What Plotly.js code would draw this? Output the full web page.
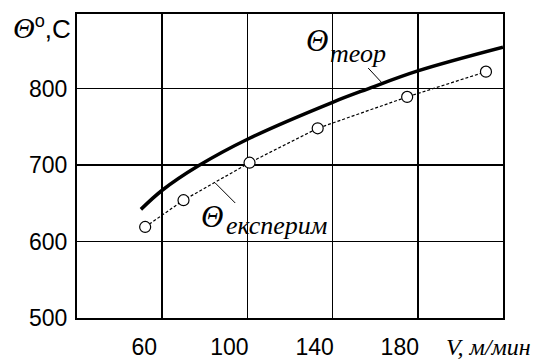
<!DOCTYPE html>
<html>
<head>
<meta charset="utf-8">
<script src="https://cdn.plot.ly/plotly-3.0.1.min.js"></script>
<style>html,body{margin:0;padding:0;background:#fff;}#chart{width:533px;height:362px;}</style>
</head>
<body>
<div id="chart"></div>
<script>
// Data
const theorV = [50, 60, 77, 101, 140, 156, 180, 220];
const theorT = [642, 667, 699, 735, 782, 799, 823, 854];
const expV = [52, 70, 101, 133, 175, 212];
const expT = [619, 654, 703, 748, 789, 822];
const xTicks = [60, 100, 140, 180];
const xTickText = ['60', '100', '140', '180'];
const yTicks = [500, 600, 700, 800];
const yTickText = ['500', '600', '700', '800'];

const serif = 'Liberation Serif, DejaVu Serif, serif';
const sans = 'Liberation Sans, Arial, sans-serif';

const traces = [
  {
    x: theorV, y: theorT, mode: 'lines', type: 'scatter',
    line: {color: '#000', width: 3.5, shape: 'spline'},
    hoverinfo: 'skip', showlegend: false
  },
  {
    x: expV, y: expT, mode: 'lines+markers', type: 'scatter',
    line: {color: '#000', width: 1.2, dash: '3px,2px'},
    marker: {symbol: 'circle', size: 11, color: '#fff', line: {color: '#000', width: 1.2}},
    hoverinfo: 'skip', showlegend: false
  }
];

const layout = {
  width: 533, height: 362,
  margin: {l: 77, r: 30, t: 14, b: 44},
  paper_bgcolor: '#fff', plot_bgcolor: '#fff',
  font: {family: sans, size: 24, color: '#000'},
  xaxis: {
    range: [20, 220], tickvals: xTicks, ticktext: xTickText,
    showgrid: true, gridcolor: '#000', gridwidth: 1.5,
    zeroline: false, showline: true, linecolor: '#000', linewidth: 2, mirror: true,
    ticks: '', ticklabelshift: -18, ticklabelstandoff: 7,
    tickfont: {family: sans, size: 23, color: '#000'}
  },
  yaxis: {
    range: [500, 897.4], tickvals: yTicks, ticktext: yTickText,
    showgrid: true, gridcolor: '#000', gridwidth: 1.5,
    zeroline: false, showline: true, linecolor: '#000', linewidth: 2, mirror: true,
    ticks: '', ticklabelstandoff: 3,
    tickfont: {family: sans, size: 23, color: '#000'}
  },
  shapes: [
    // white masks over gridlines behind labels
    {type: 'rect', xref: 'paper', yref: 'paper', layer: 'between',
     x0: (300-77)/426, x1: (392-77)/426, y0: (318-72)/304, y1: (318-22)/304,
     fillcolor: '#fff', line: {width: 0}},
    {type: 'rect', xref: 'paper', yref: 'paper', layer: 'between',
     x0: (238-77)/426, x1: (258-77)/426, y0: (318-205)/304, y1: (318-169)/304,
     fillcolor: '#fff', line: {width: 0}},
    {type: 'rect', xref: 'paper', yref: 'paper', layer: 'between',
     x0: (200-77)/426, x1: (330-77)/426, y0: (318-238)/304, y1: (318-205)/304,
     fillcolor: '#fff', line: {width: 0}},
    // leader lines
    {type: 'line', xref: 'x', yref: 'y', x0: 156.7, y0: 826.8, x1: 162.8, y1: 808.5,
     line: {color: '#000', width: 1}},
    {type: 'line', xref: 'x', yref: 'y', x0: 84.9, y0: 676.5, x1: 94.3, y1: 650.3,
     line: {color: '#000', width: 1}}
  ],
  annotations: [
    // y axis title
    {xref: 'paper', yref: 'paper', x: (73-77)/426, y: (318-27)/304, xanchor: 'right', yanchor: 'middle',
     showarrow: false, text: '<span style="font-family:Liberation Serif;font-size:30px"><i>Θ</i></span><sup>o</sup>,C',
     font: {family: sans, size: 26, color: '#000'}},
    // x axis title
    {xref: 'paper', yref: 'paper', x: (533-77)/426, y: (318-347)/304, xanchor: 'right', yanchor: 'middle',
     showarrow: false, text: '<i>V, м/мин</i>', font: {family: serif, size: 24, color: '#000'}},
    // theoretical label
    {xref: 'paper', yref: 'paper', x: (317-77)/426, y: (318-40)/304, xanchor: 'center', yanchor: 'middle',
     showarrow: false, text: '<i>Θ</i>', font: {family: serif, size: 31, color: '#000'}},
    {xref: 'paper', yref: 'paper', x: (328-77)/426, y: (318-54)/304, xanchor: 'left', yanchor: 'middle',
     showarrow: false, text: '<i>теор</i>', font: {family: serif, size: 26, color: '#000'}},
    // experimental label
    {xref: 'paper', yref: 'paper', x: (212-77)/426, y: (318-216)/304, xanchor: 'center', yanchor: 'middle',
     showarrow: false, text: '<i>Θ</i>', font: {family: serif, size: 31, color: '#000'}},
    {xref: 'paper', yref: 'paper', x: (224-77)/426, y: (318-225)/304, xanchor: 'left', yanchor: 'middle',
     showarrow: false, text: '<i>експерим</i>', font: {family: serif, size: 26, color: '#000'}}
  ]
};

Plotly.newPlot('chart', traces, layout, {staticPlot: true, displayModeBar: false});
</script>
</body>
</html>
